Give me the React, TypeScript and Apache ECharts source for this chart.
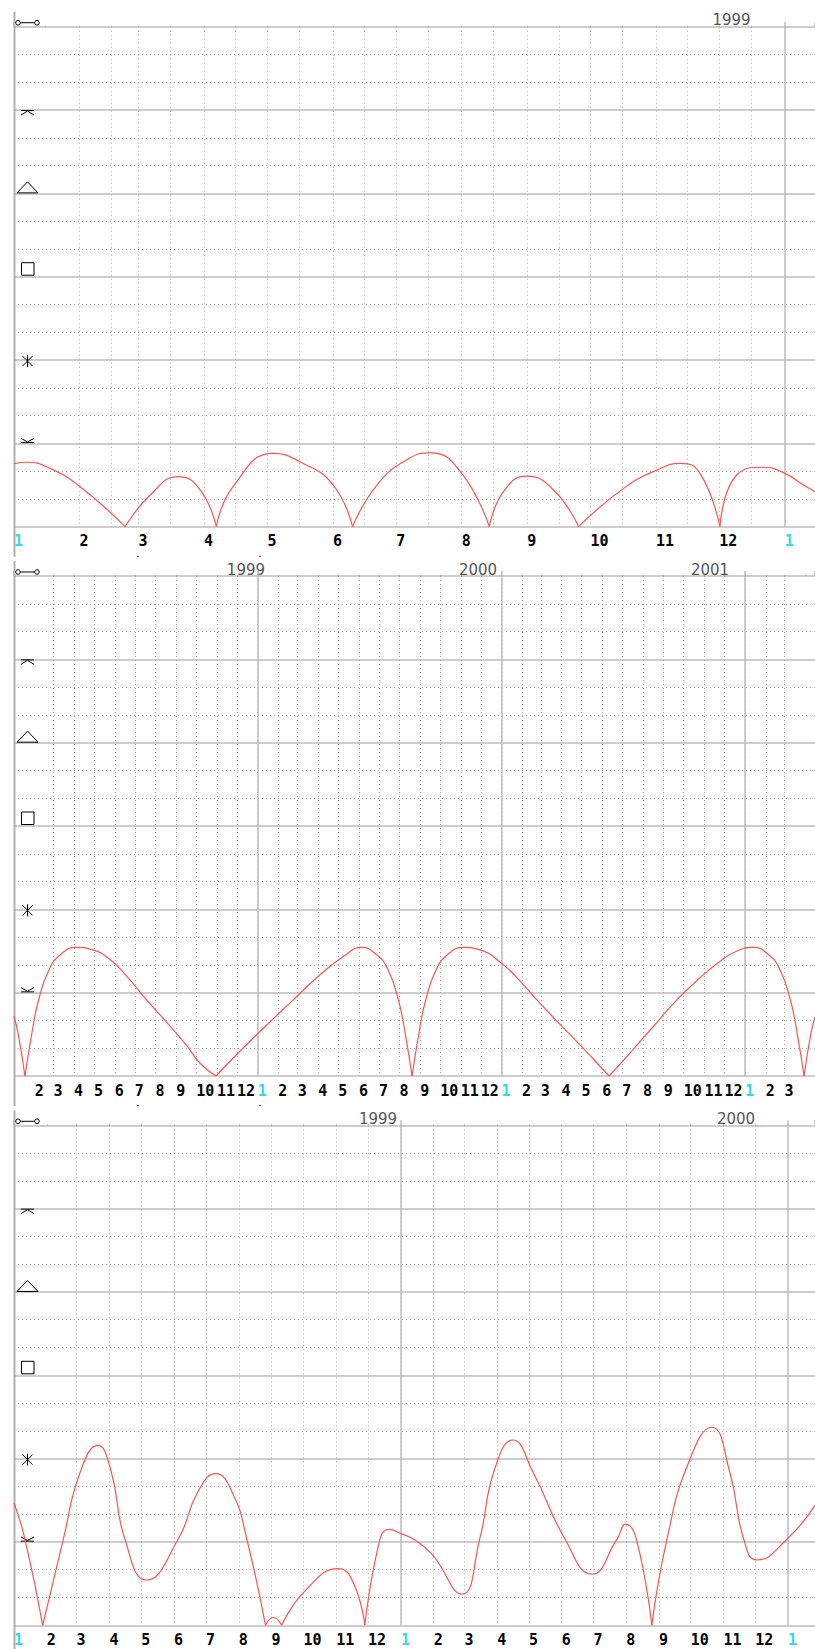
import React, { useEffect, useRef } from "react";
import * as echarts from "echarts";

// ---- data (x in months since Jan 1 1999, y = angular separation in degrees) ----
const p1Months = [0, 0.2, 0.56, 1.03, 1.73, 2.12, 2.56, 2.9, 3.15, 3.41, 4.04, 4.45, 4.97, 5.27, 5.65, 6.13, 6.48, 6.95, 7.4, 7.62, 7.98, 8.4, 8.79, 9.49, 10.01, 10.37, 10.68, 10.99, 11.25, 11.67, 12.0, 12.29, 12.47];
const p1Degrees = [22.7, 23.2, 21.0, 14.4, 0, 11.4, 18.0, 13.2, 0, 14.4, 26.4, 23.4, 15.0, 0, 15.0, 24.3, 26.6, 19.8, 0, 12.6, 18.2, 13.2, 0, 13.8, 20.4, 22.8, 19.2, 0, 18.6, 21.4, 19.2, 15.0, 12.6];

const p2Months = [0, 0.21, 0.54, 0.87, 1.2, 1.74, 2.34, 3.04, 3.84, 4.8, 5.6, 6.53, 7.5, 8.5, 9.16, 9.95, 11.0, 12.11, 13.75, 15.0, 16.3, 17.1, 17.8, 18.4, 18.94, 19.27, 19.6, 19.93, 20.26, 20.8, 21.4, 22.1, 22.9, 24.1, 25.0, 25.75, 26.5, 27.5, 28.5, 29.3, 30.3, 31.5, 32.64, 33.8, 34.8, 35.6, 36.4, 37.1, 37.7, 38.24, 38.57, 38.9, 39.23, 39.44];
const p2Degrees = [21.5, 15, 0, 15, 27, 38.5, 44, 46.3, 45.5, 41.5, 35.5, 27.4, 19.5, 11, 4.6, 0, 8, 16, 27.4, 36, 43.5, 46.3, 44, 38.5, 27, 15, 0, 15, 27, 38.5, 44, 46.3, 45.5, 40, 33.5, 27.4, 21.5, 14, 6.3, 0, 8, 18, 27.4, 35.5, 41.5, 45, 46.3, 44, 38.5, 27, 15, 0, 15, 21.3];

const p3Months = [0, 0.34, 0.89, 1.53, 2.05, 2.6, 3.0, 3.44, 4.11, 5.09, 5.7, 6.25, 6.8, 7.22, 7.8, 8.04, 8.3, 9.02, 10.06, 10.52, 10.88, 11.35, 11.63, 12.0, 12.39, 12.96, 13.89, 14.44, 14.9, 15.47, 16.1, 17.09, 17.92, 18.7, 18.97, 19.3, 19.78, 20.25, 20.9, 21.64, 22.2, 22.63, 23.04, 23.97, 24.84];
const p3Degrees = [44, 31, 0, 31, 55, 64.8, 56, 31, 16.3, 31, 48, 54.6, 47, 31, 0, 2.8, 0, 12.3, 20.4, 15.4, 0, 31, 34.5, 33, 31, 25.6, 11.2, 31, 56, 66.7, 55, 31, 18.4, 31, 36.4, 31, 0, 31, 58, 71.3, 55, 31, 23.5, 31, 43.2];

const panelMonths = [p1Months, p2Months, p3Months];
const panelDegrees = [p1Degrees, p2Degrees, p3Degrees];
const panelMaxMonth = [12.47, 39.44, 24.84];
const panelDottedDays = [[1, 16], [1], [1]];
const panelLabelFrom = [0, 1, 0];
const panelLabelTo = [12, 38, 24];
const panelYearLabels = [["1999"], ["1999", "2000", "2001"], ["1999", "2000"]];
const panelYearLabelMonths = [[11.17], [11.42, 22.85, 34.27], [11.29, 22.39]];
const FIRST_YEAR = 1999;

// ---- layout ----
const W = 815;
const H = 1649;
const PLOT_LEFT = 14;
const PLOT_W = 801;
const PLOT_TOP = 26.7;
const PANEL_STEP = 549.3;
const PLOT_H = 500;

const GRID_SOLID = "#bcbcbc";
const GRID_DOT = "#a8a8a8";
const CURVE = "#ff5252";
const CYAN = "#33d9f0";

// calendar position in "month units" (each year = 12 units)
function calPos(globalMonth: number, day: number): number {
  const y = Math.floor(globalMonth / 12);
  const mo = globalMonth % 12;
  const year = FIRST_YEAR + y;
  const leap = year % 4 === 0;
  const dim = [31, leap ? 29 : 28, 31, 30, 31, 30, 31, 31, 30, 31, 30, 31];
  let doy = day - 1;
  for (let k = 0; k < mo; k++) doy += dim[k];
  return y * 12 + (doy / (leap ? 366 : 365)) * 12;
}

function splitAtZeros(ms: number[], ds: number[]): number[][][] {
  const segs: number[][][] = [];
  let cur: number[][] = [];
  for (let i = 0; i < ms.length; i++) {
    cur.push([ms[i], ds[i]]);
    if (ds[i] === 0 && cur.length > 1) {
      segs.push(cur);
      cur = [[ms[i], 0]];
    }
  }
  if (cur.length > 1) segs.push(cur);
  return segs;
}

export default function App() {
  const ref = useRef<HTMLDivElement>(null);

  useEffect(() => {
    document.body.style.margin = "0";
    if (!ref.current) return;
    const chart = echarts.init(ref.current, undefined, { renderer: "svg" });

    const grids: any[] = [];
    const xAxes: any[] = [];
    const yAxes: any[] = [];
    const series: any[] = [];

    for (let i = 0; i < 3; i++) {
      const top = PLOT_TOP + i * PANEL_STEP;
      grids.push({ left: PLOT_LEFT, top, width: PLOT_W, height: PLOT_H, containLabel: false, outerBoundsMode: "none" });
      const max = panelMaxMonth[i];
      const from = panelLabelFrom[i];
      const to = panelLabelTo[i];

      const labelVals: number[] = [];
      const labelMonth: { v: number; g: number }[] = [];
      for (let g = from; g <= to; g++) {
        const v = calPos(g, 1);
        if (v <= max) {
          labelVals.push(v);
          labelMonth.push({ v, g });
        }
      }
      const dottedVals: number[] = [];
      for (let g = 0; g < 48; g++) {
        panelDottedDays[i].forEach((d) => {
          const v = calPos(g, d);
          if (v > 0 && v < max) dottedVals.push(v);
        });
      }

      // month labels
      xAxes.push({
        type: "value", gridIndex: i, min: 0, max, interval: 1,
        axisLine: { show: false }, splitLine: { show: false },
        axisTick: { show: false, customValues: labelVals },
        axisLabel: {
          show: true, margin: 7, align: "left", hideOverlap: false,
          customValues: labelVals,
          formatter: (v: number) => {
            const hit = labelMonth.find((e) => Math.abs(e.v - v) < 1e-6);
            if (!hit) return "";
            const mo = (hit.g % 12) + 1;
            return mo === 1 ? "{c|1}" : "{m|" + mo + "}";
          },
          rich: {
            m: { fontFamily: "DejaVu Sans Mono", fontWeight: "bold", fontSize: 15, color: "#000" },
            c: { fontFamily: "DejaVu Sans Mono", fontWeight: "bold", fontSize: 15, color: CYAN },
          },
        },
      });
      // dotted verticals (months / half months)
      xAxes.push({
        type: "value", gridIndex: i, min: 0, max, interval: 1,
        axisLine: { show: false }, axisLabel: { show: false },
        axisTick: { show: true, length: 4, customValues: dottedVals, lineStyle: { color: GRID_DOT, type: [1, 3], width: 1 } },
        splitLine: { show: true, showMinLine: false, showMaxLine: false, lineStyle: { color: GRID_DOT, type: [1, 3], width: 1 } },
      });
      // solid year lines
      xAxes.push({
        type: "value", gridIndex: i, min: 0, max, interval: 12,
        axisLine: { show: false }, axisLabel: { show: false },
        axisTick: { show: true, length: 5, lineStyle: { color: GRID_SOLID, width: 1.5 } },
        splitLine: { show: true, showMinLine: false, showMaxLine: false, lineStyle: { color: GRID_SOLID, width: 1.5 } },
      });
      yAxes.push({
        type: "value", gridIndex: i, min: 0, max: 180, interval: 30,
        axisLine: { show: false }, axisTick: { show: false }, axisLabel: { show: false },
        splitLine: { show: true, lineStyle: { color: GRID_SOLID, width: 1.5 } },
        minorTick: { show: false, splitNumber: 3 },
        minorSplitLine: { show: true, lineStyle: { color: GRID_DOT, type: [1, 3], width: 1 } },
      });
      const segs = splitAtZeros(panelMonths[i], panelDegrees[i]);
      segs.forEach((seg) => {
        series.push({
          type: "line", xAxisIndex: 3 * i, yAxisIndex: i, data: seg,
          smooth: 0.5, symbol: "none", showSymbol: false, silent: true, clip: true,
          lineStyle: { color: CURVE, width: 1.2 }, z: 5,
        });
      });
    }

    chart.setOption({
      animation: false,
      backgroundColor: "#ffffff",
      grid: grids,
      xAxis: xAxes,
      yAxis: yAxes,
      series,
    });

    const graphics: any[] = [];
    const stroke = { stroke: "#000", lineWidth: 1, fill: "none" };
    for (let i = 0; i < 3; i++) {
      const yOf = (deg: number) => chart.convertToPixel({ yAxisIndex: i } as any, deg) as number;
      const xOf = (m: number) => chart.convertToPixel({ xAxisIndex: 3 * i } as any, m) as number;
      const top = yOf(180);
      const bottom = yOf(0);
      // left axis line
      graphics.push({ type: "line", shape: { x1: 14.5, y1: top - 15, x2: 14.5, y2: bottom + 30 }, style: { stroke: "#b0b0b0", lineWidth: 2 } });
      // year labels
      panelYearLabels[i].forEach((lab, k) => {
        graphics.push({
          type: "text", x: xOf(panelYearLabelMonths[i][k]), y: top - 6.5,
          style: { text: lab, fontFamily: "DejaVu Sans", fontSize: 15, fill: "#555", align: "center", verticalAlign: "middle" },
        });
      });
      // opposition (180)
      const yo = top - 4;
      graphics.push({ type: "circle", shape: { cx: 18, cy: yo, r: 2.3 }, style: stroke });
      graphics.push({ type: "circle", shape: { cx: 37, cy: yo, r: 2.3 }, style: stroke });
      graphics.push({ type: "line", shape: { x1: 20.3, y1: yo, x2: 34.7, y2: yo }, style: stroke });
      // quincunx (150)
      const yq = yOf(150);
      graphics.push({ type: "line", shape: { x1: 21, y1: yq + 0.5, x2: 34, y2: yq + 0.5 }, style: stroke });
      graphics.push({ type: "polyline", shape: { points: [[21, yq + 5], [27.5, yq + 1], [34, yq + 5]] }, style: stroke });
      // trine (120)
      const yt = yOf(120);
      graphics.push({ type: "polygon", shape: { points: [[17, yt - 0.5], [27.5, yt - 11.5], [38, yt - 0.5]] }, style: stroke });
      // square (90)
      const ys = yOf(90);
      graphics.push({ type: "rect", shape: { x: 21.5, y: ys - 14, width: 12.5, height: 12.5 }, style: stroke });
      // sextile (60)
      const yx = yOf(60) + 1;
      graphics.push({ type: "line", shape: { x1: 27.5, y1: yx - 6, x2: 27.5, y2: yx + 6 }, style: stroke });
      graphics.push({ type: "line", shape: { x1: 22.5, y1: yx - 5, x2: 32.5, y2: yx + 5 }, style: stroke });
      graphics.push({ type: "line", shape: { x1: 22.5, y1: yx + 5, x2: 32.5, y2: yx - 5 }, style: stroke });
      // semisextile (30)
      const yss = yOf(30);
      graphics.push({ type: "polyline", shape: { points: [[21, yss - 5], [27.5, yss - 1.5], [34, yss - 5]] }, style: stroke });
      graphics.push({ type: "line", shape: { x1: 21, y1: yss - 0.8, x2: 34, y2: yss - 0.8 }, style: stroke });
      // tiny marks below the panel
      graphics.push({ type: "rect", shape: { x: 137, y: bottom + 29, width: 2, height: 1 }, style: { fill: "#555" } });
      graphics.push({ type: "rect", shape: { x: 259, y: bottom + 29, width: 2, height: 1 }, style: { fill: "#555" } });
    }
    chart.setOption({ graphic: graphics });

    return () => chart.dispose();
  }, []);

  return <div ref={ref} style={{ width: W, height: H }} />;
}
